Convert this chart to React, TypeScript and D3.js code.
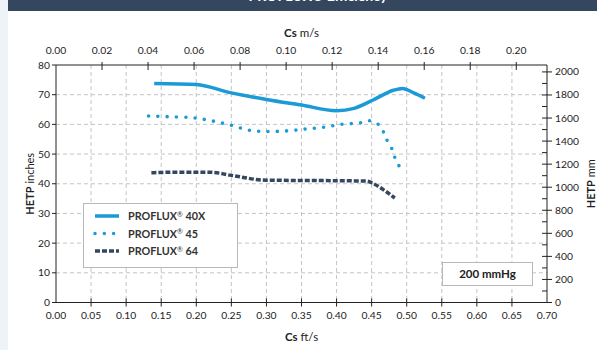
import React from "react";
import * as d3 from "d3";

// ---- data ----
const series40X: [number, number][] = [
  [0.14, 73.8], [0.2, 73.4], [0.25, 70.6], [0.3, 68.4], [0.35, 66.5], [0.4, 64.6],
  [0.425, 65.4], [0.452, 68.2], [0.481, 71.5], [0.494, 72.1], [0.51, 70.6], [0.526, 68.8],
];
const series45: [number, number][] = [
  [0.132, 62.8], [0.158, 62.6], [0.196, 62.2], [0.224, 61.1], [0.248, 59.8], [0.274, 58.1],
  [0.3, 57.6], [0.329, 57.8], [0.355, 58.4], [0.381, 59.0], [0.407, 60.0], [0.433, 60.5],
  [0.447, 61.2], [0.459, 60.1], [0.467, 57.4], [0.472, 54.6], [0.479, 51.7], [0.483, 48.9],
  [0.49, 45.6],
];
const series64: [number, number][] = [
  [0.136, 43.7], [0.177, 43.9], [0.22, 43.9], [0.248, 42.9], [0.3, 41.2], [0.357, 41.1],
  [0.443, 40.9], [0.452, 40.1], [0.471, 37.3], [0.483, 35.2],
];
const ftTicks = [0, 0.05, 0.1, 0.15, 0.2, 0.25, 0.3, 0.35, 0.4, 0.45, 0.5, 0.55, 0.6, 0.65, 0.7];
const msTicks = [0, 0.02, 0.04, 0.06, 0.08, 0.1, 0.12, 0.14, 0.16, 0.18, 0.2];
const inTicks = [0, 10, 20, 30, 40, 50, 60, 70, 80];
const mmMajor = [0, 200, 400, 600, 800, 1000, 1200, 1400, 1600, 1800, 2000];
const mmMinor = [100, 300, 500, 700, 900, 1100, 1300, 1500, 1700, 1900];
const legendNames = ["40X", "45", "64"];
const annotation = "200 mmHg";

const BLUE = "#1a9ad6";
const NAVY = "#34475f";
const FONT = "Lato, 'Open Sans', sans-serif";

export default function App() {
  const L = 56, R = 547, T = 65, B = 302.5;
  const x = d3.scaleLinear().domain([0, 0.7]).range([L, R]);
  const xm = d3.scaleLinear().domain([0, 0.7 * 0.3048]).range([L, R]);
  const y = d3.scaleLinear().domain([0, 80]).range([B, T]);
  const ymm = d3.scaleLinear().domain([0, 2060]).range([B, T]);
  const line = d3.line<[number, number]>().x(d => x(d[0])).y(d => y(d[1])).curve(d3.curveMonotoneX);
  const line45 = d3.line<[number, number]>().x(d => x(d[0])).y(d => y(d[1])).curve(d3.curveCatmullRom);

  const styles = [
    { stroke: BLUE, dash: undefined, cap: "butt" },
    { stroke: BLUE, dash: "0 9.3", cap: "round" },
    { stroke: NAVY, dash: "5 2", cap: "butt" },
  ];
  const TF = 10.3;

  return (
    <svg width={597} height={350} style={{ position: "absolute", left: 0, top: 0, fontFamily: FONT }}>
      <rect x={0} y={0} width={597} height={350} fill="#eef3f7" />
      <rect x={8} y={0} width={589} height={350} fill="#ffffff" />
      <rect x={8} y={0} width={589} height={11} fill={NAVY} />
      <text x={318} y={1} textAnchor="middle" fill="#fff" fontSize={14} fontWeight={700}>
        PROFLUX® Efficiency
      </text>

      {/* grid */}
      {ftTicks.filter(t => t > 0 && t < 0.7).map(t => (
        <line key={"gx" + t} x1={x(t)} x2={x(t)} y1={T} y2={B} stroke="#c4c4c4" strokeDasharray="4 3" />
      ))}
      {inTicks.filter(t => t > 0 && t < 80).map(t => (
        <line key={"gy" + t} x1={L} x2={R} y1={y(t)} y2={y(t)} stroke="#c4c4c4" strokeDasharray="4 3" />
      ))}

      {/* axes frame */}
      <line x1={L} x2={R} y1={T} y2={T} stroke="#222" />
      <line x1={L} x2={R} y1={B} y2={B} stroke="#222" />
      <line x1={L} x2={L} y1={T} y2={B} stroke="#222" />
      <line x1={R} x2={R} y1={T} y2={B} stroke="#222" />

      {/* top axis m/s */}
      {msTicks.map(t => (
        <g key={"mt" + t}>
          {t > 0 && <line x1={xm(t)} x2={xm(t)} y1={T - 3} y2={T + 5} stroke="#222" />}
          <text x={xm(t)} y={T - 11} textAnchor="middle" fontSize={TF} fill="#222">{t.toFixed(2)}</text>
        </g>
      ))}
      <text x={(L + R) / 2} y={37} textAnchor="middle" fontSize={11.5} fill="#222">
        <tspan fontWeight={700}>Cs</tspan> m/s
      </text>

      {/* bottom axis ft/s */}
      {ftTicks.map(t => (
        <g key={"ft" + t}>
          {t > 0 && t < 0.7 && <line x1={x(t)} x2={x(t)} y1={B - 4} y2={B + 4} stroke="#222" />}
          <text x={x(t)} y={B + 16} textAnchor="middle" fontSize={TF} fill="#222">{t.toFixed(2)}</text>
        </g>
      ))}
      <text x={(L + R) / 2} y={341} textAnchor="middle" fontSize={11.5} fill="#222">
        <tspan fontWeight={700}>Cs</tspan> ft/s
      </text>

      {/* left axis inches */}
      {inTicks.map(t => (
        <g key={"it" + t}>
          <line x1={L - 4} x2={L} y1={y(t)} y2={y(t)} stroke="#222" />
          <text x={L - 6} y={y(t) + 3.5} textAnchor="end" fontSize={TF} fill="#222">{t}</text>
        </g>
      ))}
      <text transform={`translate(34,${(T + B) / 2}) rotate(-90)`} textAnchor="middle" fontSize={11} fill="#222">
        <tspan fontWeight={700}>HETP</tspan> inches
      </text>

      {/* right axis mm */}
      {mmMinor.map(t => (
        <line key={"mn" + t} x1={R - 5} x2={R} y1={ymm(t)} y2={ymm(t)} stroke="#222" />
      ))}
      {mmMajor.map(t => (
        <g key={"mm" + t}>
          <line x1={R - 5} x2={R + 5} y1={ymm(t)} y2={ymm(t)} stroke="#222" />
          <text x={R + 8} y={ymm(t) + 3.5} textAnchor="start" fontSize={TF} fill="#222">{t}</text>
        </g>
      ))}
      <text transform={`translate(595,${(T + B) / 2}) rotate(-90)`} textAnchor="middle" fontSize={11} fill="#222">
        <tspan fontWeight={700}>HETP</tspan> mm
      </text>

      {/* series */}
      <path d={line(series40X) || ""} fill="none" stroke={BLUE} strokeWidth={3.5} />
      <path d={line45(series45) || ""} fill="none" stroke={BLUE} strokeWidth={3.6} strokeDasharray="0 9.3" strokeLinecap="round" />
      <path d={line(series64) || ""} fill="none" stroke={NAVY} strokeWidth={3.5} strokeDasharray="5 2" />

      {/* legend */}
      <rect x={83.5} y={203.5} width={154} height={64} fill="#fff" stroke="#b8b8b8" />
      {legendNames.map((n, i) => {
        const yy = 216 + i * 17.5;
        const s = styles[i];
        return (
          <g key={n}>
            <line x1={95} x2={119} y1={yy} y2={yy} stroke={s.stroke} strokeWidth={3.5}
              strokeDasharray={s.dash} strokeLinecap={s.cap as any} />
            <text x={128} y={yy + 4} fontSize={10.8} fontWeight={700} fill="#333">
              PROFLUX<tspan fontSize={7} dy={-3.5} fontWeight={400}>®</tspan>
              <tspan dy={3.5}> {n}</tspan>
            </text>
          </g>
        );
      })}

      {/* annotation */}
      <rect x={442.5} y={262.5} width={90} height={23} fill="#fff" stroke="#b8b8b8" />
      <text x={487.5} y={278} textAnchor="middle" fontSize={11.5} fontWeight={700} fill="#222">{annotation}</text>
    </svg>
  );
}
